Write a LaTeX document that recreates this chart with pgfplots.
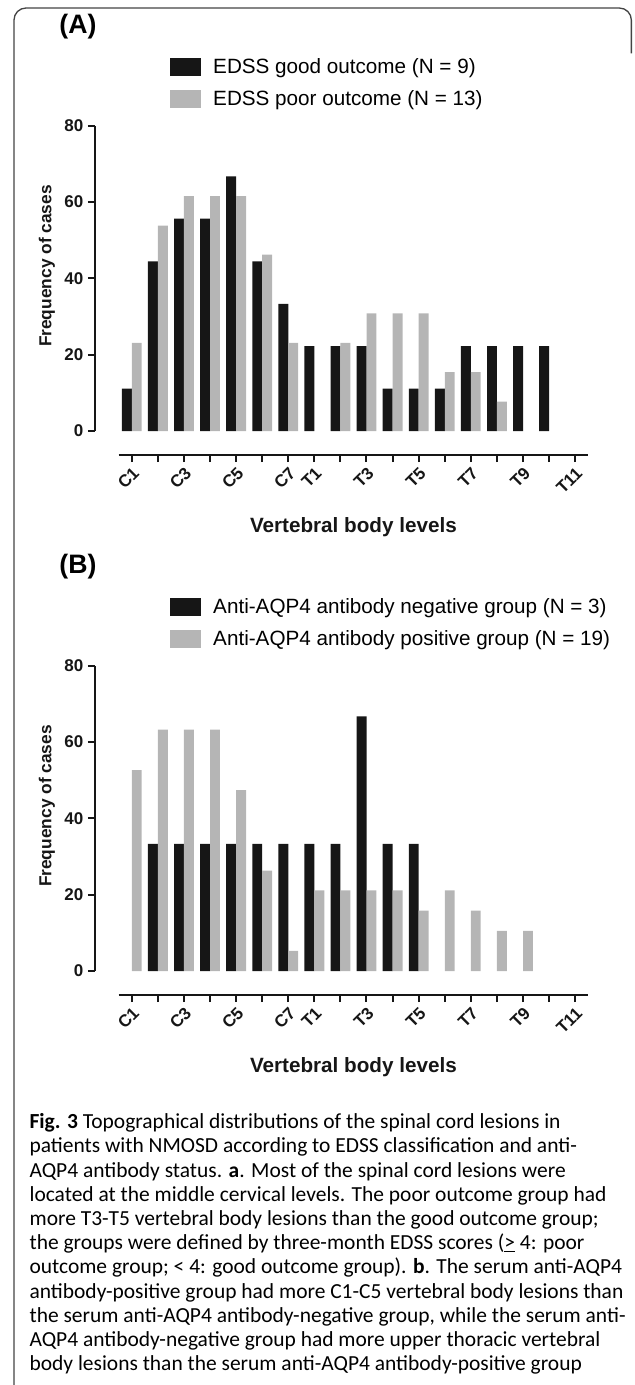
\documentclass[border=0pt]{standalone}
\usepackage{fontspec}
\setmainfont{Liberation Sans}
\newfontfamily\capfont{Carlito}
\usepackage{pgfplots}
\usepackage{pgfplotstable}
\pgfplotsset{compat=1.18}

\definecolor{barblack}{HTML}{161616}
\definecolor{bargray}{HTML}{B5B5B5}
\definecolor{framegray}{HTML}{444444}

% x = 0..17 : C1..C7, T1..T11 ; values in % of cases
\pgfplotstableread{
x good poor
0 11.1 23.1
1 44.4 53.8
2 55.6 61.5
3 55.6 61.5
4 66.7 61.5
5 44.4 46.2
6 33.3 23.1
7 22.2 0
8 22.2 23.1
9 22.2 30.8
10 11.1 30.8
11 11.1 30.8
12 11.1 15.4
13 22.2 15.4
14 22.2 7.7
15 22.2 0
16 22.2 0
17 0 0
}\edss

\pgfplotstableread{
x neg pos
0 0 52.6
1 33.3 63.2
2 33.3 63.2
3 33.3 63.2
4 33.3 47.4
5 33.3 26.3
6 33.3 5.3
7 33.3 21.1
8 33.3 21.1
9 66.7 21.1
10 33.3 21.1
11 33.3 15.8
12 0 21.1
13 0 15.8
14 0 10.5
15 0 10.5
16 0 0
17 0 0
}\aqp

\pgfplotsset{
  mybar/.style={ybar, bar width=0.38, bar shift=#1, draw=none,
    y filter/.expression={y==0 ? nan : y}, unbounded coords=discard,
    legend image code/.code={\fill[##1] (0pt,-6.75pt) rectangle (23.25pt,6.75pt); \path (32.25pt,0pt);}},
  mainax/.style={scale only axis, width=369.9pt, height=229.125pt,
    xmin=-1.41, xmax=17.5, ymin=0, ymax=80, clip=false,
    axis x line=none, axis y line*=left, xtick=\empty,
    axis line style={-, line width=1.5pt, color=barblack},
    ytick={0,20,40,60,80}, tick align=outside, major tick length=5.25pt,
    ytick style={line width=1.5pt, color=barblack},
    /pgf/number format/assume math mode=true,
    yticklabel style={font=\bfseries\fontsize{12.75}{14}\selectfont, color=barblack},
    every axis y label/.style={at={(axis description cs:-0.0973,0.54)}, rotate=90, anchor=center,
      font=\bfseries\fontsize{13}{15}\selectfont, color=barblack},
    ylabel={Frequency of cases},
    legend style={at={(axis description cs:0.152,1.223)}, anchor=north west, draw=none, fill=none,
      inner sep=0pt, row sep=11pt, font=\fontsize{15.5}{18}\selectfont, nodes={inner sep=0pt},
      cells={anchor=west}},
    legend cell align=left},
  xax/.style={scale only axis, width=352.05pt, height=10pt,
    xmin=-0.5, xmax=17.5, ymin=0, ymax=1,
    axis x line*=bottom, axis y line=none, ytick=\empty,
    axis line style={-, line width=1.5pt, color=barblack},
    xtick={0,2,4,6,7,9,11,13,15,17},
    xticklabels={C1,C3,C5,C7,T1,T3,T5,T7,T9,T11},
    minor xtick={1,3,5,8,10,12,14,16},
    tick align=outside, major tick length=5.25pt, minor tick length=5.25pt,
    xtick style={line width=1.5pt, color=barblack},
    minor x tick style={line width=1.5pt, color=barblack},
    xticklabel style={rotate=45, anchor=north east, font=\bfseries\fontsize{12.75}{14}\selectfont,
      color=barblack, inner sep=2pt},
    every axis x label/.style={at={(axis description cs:0.5,0)}, yshift=-54pt, anchor=center,
      font=\bfseries\fontsize{15.5}{18}\selectfont, color=barblack},
    xlabel={Vertebral body levels}},
}

\begin{document}
\begin{tikzpicture}
\useasboundingbox (0,0) rectangle (476.25pt,-1038.75pt);
\draw[framegray, line width=1pt, rounded corners=9pt]
  (10.5pt,-1040pt) -- (10.5pt,-6pt) -- (473.5pt,-6pt) -- (473.5pt,-40pt);

% ---- panel A
\node[font=\bfseries\fontsize{20}{24}\selectfont, anchor=center] at (58.5pt,-20.25pt) {(A)};
\begin{axis}[mainax, at={(71.25pt,-323.25pt)}, anchor=south west]
\addplot[mybar=-0.19, fill=barblack] table[x=x, y=good] {\edss};
\addlegendentry{EDSS good outcome (N = 9)}
\addplot[mybar=0.19, fill=bargray] table[x=x, y=poor] {\edss};
\addlegendentry{EDSS poor outcome (N = 13)}
\end{axis}
\begin{axis}[xax, at={(89.03pt,-341.25pt)}, anchor=south west]
\end{axis}

% ---- panel B
\node[font=\bfseries\fontsize{20}{24}\selectfont, anchor=center] at (58.5pt,-425.25pt) {(B)};
\begin{axis}[mainax, at={(71.25pt,-728.25pt)}, anchor=south west]
\addplot[mybar=-0.19, fill=barblack] table[x=x, y=neg] {\aqp};
\addlegendentry{Anti-AQP4 antibody negative group (N = 3)}
\addplot[mybar=0.19, fill=bargray] table[x=x, y=pos] {\aqp};
\addlegendentry{Anti-AQP4 antibody positive group (N = 19)}
\end{axis}
\begin{axis}[xax, at={(89.03pt,-746.25pt)}, anchor=south west]
\end{axis}

% ---- caption
\node[anchor=north west, align=left, inner sep=0pt,
      font=\capfont\fontsize{16.1}{18.15}\selectfont] at (22pt,-835pt) {%
\textbf{Fig. 3} Topographical distributions of the spinal cord lesions in\\
patients with NMOSD according to EDSS classification and anti-\\
AQP4 antibody status. \textbf{a}. Most of the spinal cord lesions were\\
located at the middle cervical levels. The poor outcome group had\\
more T3-T5 vertebral body lesions than the good outcome group;\\
the groups were defined by three-month EDSS scores (\underline{>} 4: poor\\
outcome group; < 4: good outcome group). \textbf{b}. The serum anti-AQP4\\
antibody-positive group had more C1-C5 vertebral body lesions than\\
the serum anti-AQP4 antibody-negative group, while the serum anti-\\
AQP4 antibody-negative group had more upper thoracic vertebral\\
body lesions than the serum anti-AQP4 antibody-positive group};
\end{tikzpicture}
\end{document}
